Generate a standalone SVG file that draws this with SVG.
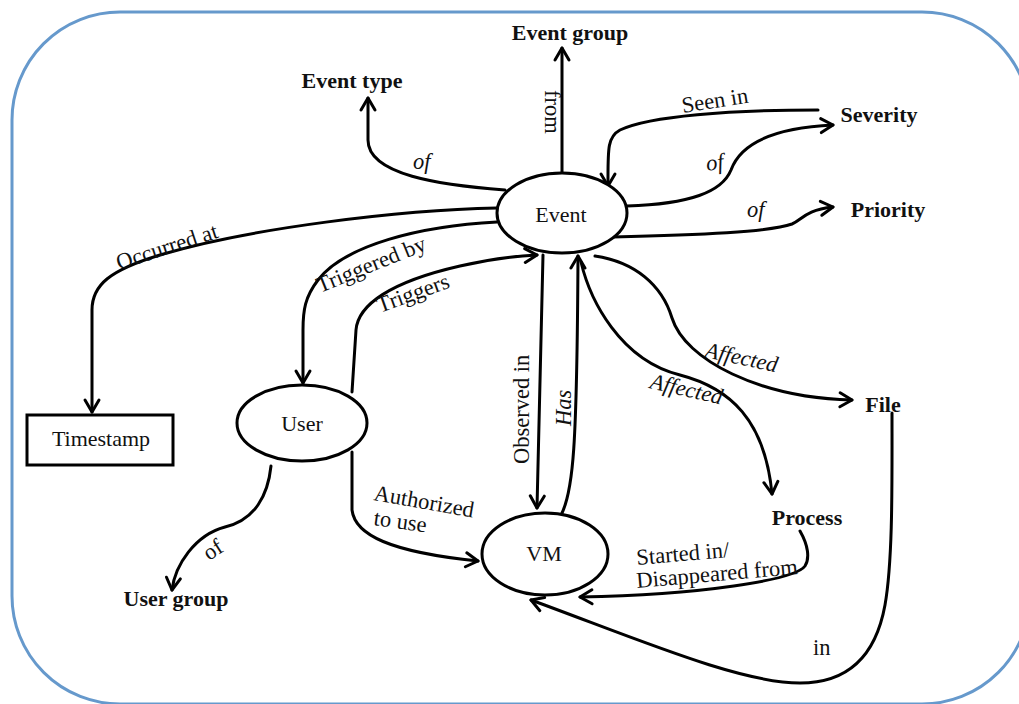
<svg xmlns="http://www.w3.org/2000/svg" width="1019" height="704" viewBox="0 0 1019 704">
<style>
.edge{fill:none;stroke:#000;stroke-width:3;stroke-linecap:round;stroke-linejoin:round}
.arr{marker-end:url(#ah)}
.node{fill:#fff;stroke:#000;stroke-width:3}
.nt{font-family:"Liberation Serif",serif;font-size:22px;fill:#111;text-anchor:middle}
.bt{font-family:"Liberation Serif",serif;font-size:22px;font-weight:bold;fill:#111;text-anchor:middle}
.el{font-family:"Liberation Serif",serif;font-size:22.5px;fill:#111}
.it{font-style:italic}
</style>
<defs>
<marker id="ah" markerUnits="userSpaceOnUse" markerWidth="18" markerHeight="20" viewBox="-15 -10 18 20" refX="0" refY="0" orient="auto" overflow="visible">
<path d="M-12,-7 L0,0 L-12,7" fill="none" stroke="#000" stroke-width="3" stroke-linecap="round" stroke-linejoin="round"/>
</marker>
</defs>
<rect x="12" y="12" width="1018" height="692" rx="108" ry="108" fill="#fff" stroke="#6699cc" stroke-width="3"/>
<g id="connectors">
<path class="edge arr" d="M562,173 L562,48"/>
<path class="edge arr" d="M505,190 C440,185 368,175 368,140 L368,98"/>
<path class="edge arr" d="M818,110 C730,110 650,116 620,130 C607,137 608,150 608,186"/>
<path class="edge arr" d="M627,206 C690,204 722,192 731,170 C740,145 770,128 833,125"/>
<path class="edge arr" d="M613,237 C700,235 770,232 792,224 C802,220 805,210 833,207"/>
<path class="edge arr" d="M497,208 C400,210 250,228 160,255 C110,270 92,285 92,310 L92,412"/>
<path class="edge arr" d="M497,222 C420,226 345,245 318,280 C305,297 303,310 303,330 L303,383"/>
<path class="edge arr" d="M352,392 L356,330 C358,305 390,282 460,266 C490,259 515,256 537,255"/>
<path class="edge arr" d="M543,255 L537,508"/>
<path class="edge arr" d="M562,513 C573,490 577,450 578,256"/>
<path class="edge arr" d="M581,262 C590,300 620,360 680,375 C730,388 765,420 772,494"/>
<path class="edge arr" d="M595,256 C635,262 662,285 672,318 C685,360 760,398 852,400"/>
<path class="edge arr" d="M892,413 C892,480 893,560 885,605 C875,660 845,683 800,683 C740,683 640,640 531,600"/>
<path class="edge arr" d="M800,531 C808,545 810,558 805,566 C795,580 700,595 580,597"/>
<path class="edge arr" d="M352,452 L352,510 C355,535 390,552 478,561"/>
<path class="edge arr" d="M271,466 C268,495 255,520 225,527 C195,535 175,565 172,590"/>
</g>
<g id="edge-labels">
<text class="el" transform="translate(545,90) rotate(90)">from</text>
<text class="el it" x="413" y="169">of</text>
<text class="el" transform="translate(683,113) rotate(-9)">Seen in</text>
<text class="el it" transform="translate(707,171) rotate(-8)">of</text>
<text class="el it" x="747" y="217">of</text>
<text class="el" transform="translate(119,270) rotate(-18)">Occurred at</text>
<text class="el" transform="translate(320,293) rotate(-22)">Triggered by</text>
<text class="el" transform="translate(380,313) rotate(-20)">Triggers</text>
<text class="el" transform="translate(529,464) rotate(-90)">Observed in</text>
<text class="el it" transform="translate(571,426) rotate(-90)">Has</text>
<text class="el it" transform="translate(704,357) rotate(12)">Affected</text>
<text class="el it" transform="translate(649,388) rotate(13)">Affected</text>
<text class="el" transform="translate(637,565) rotate(-5)">Started in/</text>
<text class="el" transform="translate(637,588) rotate(-5)">Disappeared from</text>
<text class="el" transform="translate(373,500) rotate(10)">Authorized</text>
<text class="el" transform="translate(373,525) rotate(8)">to use</text>
<text class="el" transform="translate(209,561) rotate(-33)">of</text>
<text class="el" x="813" y="655">in</text>
</g>
<g id="node-event"><ellipse class="node" cx="562" cy="213" rx="65" ry="40"/><text class="nt" x="561" y="222">Event</text></g>
<g id="node-user"><ellipse class="node" cx="302" cy="423" rx="65" ry="38"/><text class="nt" x="302" y="431">User</text></g>
<g id="node-vm"><ellipse class="node" cx="545" cy="554" rx="63" ry="41"/><text class="nt" x="544" y="561">VM</text></g>
<g id="node-timestamp"><rect class="node" x="27" y="415" width="146" height="50"/><text class="nt" x="101" y="446">Timestamp</text></g>
<g id="node-eventgroup"><text class="bt" x="570" y="40">Event group</text></g>
<g id="node-eventtype"><text class="bt" x="352" y="88">Event type</text></g>
<g id="node-severity"><text class="bt" x="879" y="122">Severity</text></g>
<g id="node-priority"><text class="bt" x="888" y="217">Priority</text></g>
<g id="node-file"><text class="bt" x="883" y="412">File</text></g>
<g id="node-process"><text class="bt" x="807" y="525">Process</text></g>
<g id="node-usergroup"><text class="bt" x="176" y="606">User group</text></g>
</svg>
